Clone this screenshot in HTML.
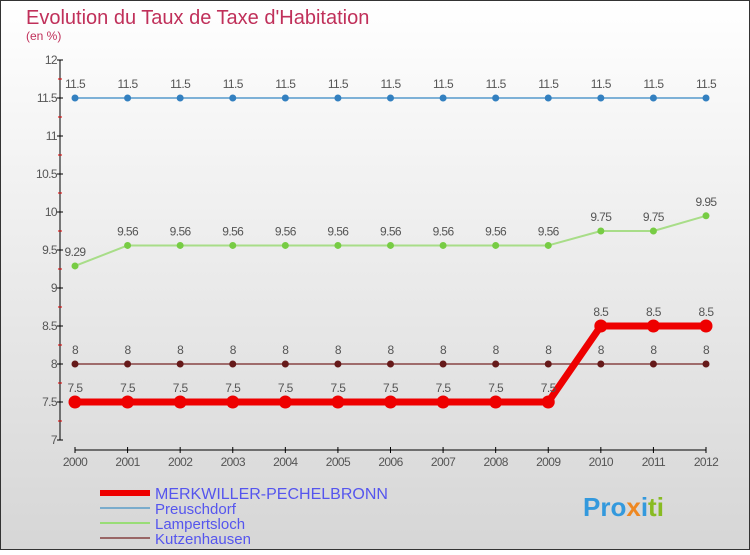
<!DOCTYPE html>
<html><head><meta charset="utf-8"><style>
body{margin:0;width:750px;height:550px;overflow:hidden;font-family:"Liberation Sans",sans-serif}
</style></head><body>
<svg width="750" height="550" xmlns="http://www.w3.org/2000/svg">
<defs><linearGradient id="bg" x1="0" y1="0" x2="0" y2="1"><stop offset="0" stop-color="#ffffff"/><stop offset="1" stop-color="#d6d6d6"/></linearGradient></defs>
<rect x="0.5" y="0.5" width="749" height="549" fill="url(#bg)" stroke="#333"/>
<text x="26" y="24" font-size="20" fill="#c0305a">Evolution du Taux de Taxe d'Habitation</text>
<text x="26" y="40" font-size="12" fill="#c0305a">(en %)</text>
<g id="axes"></g><g id="series"></g>
<g>
<line x1="100" y1="493" x2="150" y2="493" stroke="#e00" stroke-width="6"/>
<text x="155" y="499" font-size="16" fill="#5555ee">MERKWILLER-PECHELBRONN</text>
<line x1="100" y1="508" x2="150" y2="508" stroke="#7aaccc" stroke-width="2"/>
<text x="155" y="514" font-size="15" fill="#5555ee">Preuschdorf</text>
<line x1="100" y1="523" x2="150" y2="523" stroke="#99dd77" stroke-width="2"/>
<text x="155" y="529" font-size="15" fill="#5555ee">Lampertsloch</text>
<line x1="100" y1="538" x2="150" y2="538" stroke="#996666" stroke-width="2"/>
<text x="155" y="544" font-size="15" fill="#5555ee">Kutzenhausen</text>
</g>
<text x="583" y="516" font-size="26" font-weight="bold" fill="#3399dd">Pro<tspan fill="#ee8822">x</tspan>i<tspan fill="#88bb22">ti</tspan></text>
</svg>
<script>
const years=[2000,2001,2002,2003,2004,2005,2006,2007,2008,2009,2010,2011,2012];
const yTicks=[7,7.5,8,8.5,9,9.5,10,10.5,11,11.5,12];
const merkwiller=[7.5,7.5,7.5,7.5,7.5,7.5,7.5,7.5,7.5,7.5,8.5,8.5,8.5];
const preuschdorf=[11.5,11.5,11.5,11.5,11.5,11.5,11.5,11.5,11.5,11.5,11.5,11.5,11.5];
const lampertsloch=[9.29,9.56,9.56,9.56,9.56,9.56,9.56,9.56,9.56,9.56,9.75,9.75,9.95];
const kutzenhausen=[8,8,8,8,8,8,8,8,8,8,8,8,8];
const NS="http://www.w3.org/2000/svg";
const xS=i=>75+i*(706-75)/(years.length-1);
const yS=v=>440-(v-7)*76;
function mk(t,a,p){const e=document.createElementNS(NS,t);for(const k in a)e.setAttribute(k,a[k]);p.appendChild(e);return e;}
const ax=document.getElementById('axes');
const yl=mk('line',{x1:60,y1:60,x2:60,y2:440,stroke:'#000'},ax);


yTicks.forEach(v=>{
 mk('line',{x1:57,y1:yS(v),x2:63,y2:yS(v),stroke:'#000'},ax);
 if(v<12){mk('line',{x1:58,y1:yS(v+0.25),x2:62,y2:yS(v+0.25),stroke:'#d00'},ax);}
 const t=mk('text',{x:57,y:yS(v)+4,'font-size':12,fill:'#555','text-anchor':'end','letter-spacing':'-0.6'},ax);
 t.textContent=String(v);
 
 
});
const xl=mk('line',{x1:xS(0),y1:450,x2:xS(12),y2:450,stroke:'#000'},ax);


years.forEach((y,i)=>{
 mk('line',{x1:xS(i),y1:447,x2:xS(i),y2:453,stroke:'#000'},ax);
 const t=mk('text',{x:xS(i),y:466,'font-size':12,fill:'#555','text-anchor':'middle','letter-spacing':'-0.6'},ax);
 t.textContent=String(y);
 
 
});
const sg=document.getElementById('series');
function series(vals,name,color,w,r,dot){
 const g=mk('g',{},sg);
 
 
 const pl=mk('polyline',{points:vals.map((v,i)=>xS(i)+','+yS(v)).join(' '),fill:'none',stroke:color,'stroke-width':w,'stroke-linejoin':'round'},g);
 
 
 vals.forEach((v,i)=>{
  const c=mk('circle',{cx:xS(i),cy:yS(v),r:r,fill:dot},g);
  
  
  const t=mk('text',{x:xS(i),y:yS(v)-10,'font-size':12,fill:'#555','text-anchor':'middle','letter-spacing':'-0.6'},g);
  t.textContent=String(v);
  
  
 });
}
series(preuschdorf,'preuschdorf','#5599cc',1.5,3.5,'#3380c0');
series(lampertsloch,'lampertsloch','#a8dd88',2,3.5,'#77cc44');
series(kutzenhausen,'kutzenhausen','#884444',1.5,3.5,'#661a1a');
series(merkwiller,'merkwiller','#ee0000',7,6.5,'#ee0000');
</script>
</body></html>
